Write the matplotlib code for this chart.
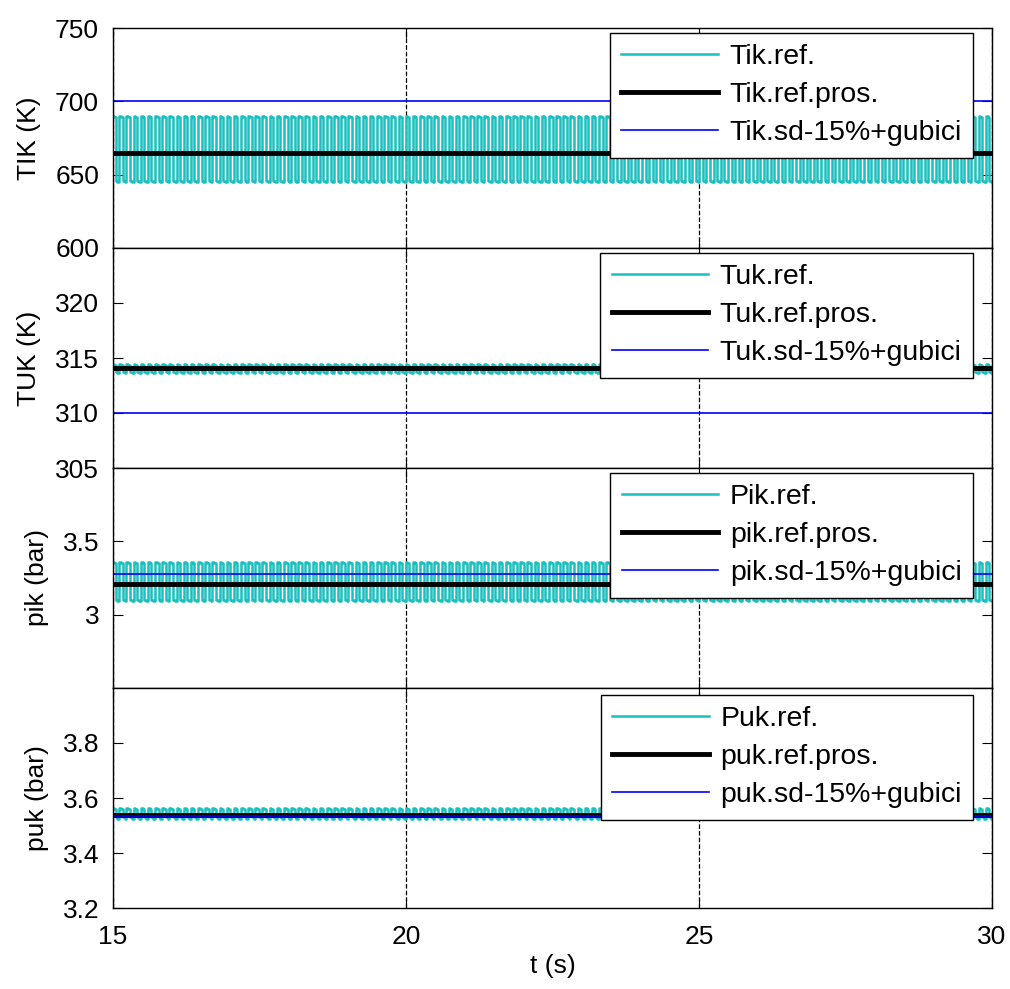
import numpy as np
import matplotlib
matplotlib.use('Agg')
import matplotlib.pyplot as plt

plt.rcParams['font.family'] = ['Liberation Sans', 'DejaVu Sans']

# time span and number of oscillation cycles seen in the picture
t_start = 15.0
t_end = 30.0
n_cycles = 123

# one cycle of each reference signal, repeated
tik_cycle = [690, 689, 646, 645]
tuk_cycle = [314.5, 314.4, 313.7, 313.6]
pik_cycle = [3.36, 3.35, 3.10, 3.09]
puk_cycle = [3.565, 3.56, 3.53, 3.525]

# averaged reference and model values
tik_mean, tik_model = 665, 700
tuk_mean, tuk_model = 314.1, 310
pik_mean, pik_model = 3.21, 3.28
puk_mean, puk_model = 3.54, 3.535

labels = [
    ['Tik.ref.', 'Tik.ref.pros.', 'Tik.sd-15%+gubici'],
    ['Tuk.ref.', 'Tuk.ref.pros.', 'Tuk.sd-15%+gubici'],
    ['Pik.ref.', 'pik.ref.pros.', 'pik.sd-15%+gubici'],
    ['Puk.ref.', 'puk.ref.pros.', 'puk.sd-15%+gubici'],
]
ylabels = ['TIK (K)', 'TUK (K)', 'pik (bar)', 'puk (bar)']
ylims = [(600, 750), (305, 325), (2.5, 4.0), (3.2, 4.0)]
yticks = [[600, 650, 700, 750], [305, 310, 315, 320], [3, 3.5], [3.2, 3.4, 3.6, 3.8]]
yticklabels = [['600', '650', '700', '750'], ['305', '310', '315', '320'],
               ['3', '3.5'], ['3.2', '3.4', '3.6', '3.8']]
xticks = [15, 20, 25, 30]

cycles = [tik_cycle, tuk_cycle, pik_cycle, puk_cycle]
means = [tik_mean, tuk_mean, pik_mean, puk_mean]
models = [tik_model, tuk_model, pik_model, puk_model]

fig = plt.figure(figsize=(10.1, 9.89), dpi=100)
W, H = 1010, 989
left, right = 113, 992
tops = [28, 248, 468, 688]
ph = 220
# legend boxes (right, top) in picture pixels
leg_right = 973
leg_tops = [33, 253, 473, 695]

fs = 19
cyan = '#1abfbf'
for i in range(4):
    ax = fig.add_axes([left / W, 1 - (tops[i] + ph) / H, (right - left) / W, ph / H])
    ref = np.tile(cycles[i], n_cycles)
    t = np.linspace(t_start, t_end, len(ref))
    ax.plot(t, ref, color=cyan, lw=1.8, drawstyle='steps-mid', label=labels[i][0])
    ax.plot([t_start, t_end], [means[i], means[i]], color='black', lw=3.5, label=labels[i][1])
    ax.plot([t_start, t_end], [models[i], models[i]], color='blue', lw=1.2, label=labels[i][2])
    ax.set_xlim(t_start, t_end)
    ax.set_ylim(*ylims[i])
    ax.set_yticks(yticks[i])
    ax.set_yticklabels(yticklabels[i])
    ax.set_xticks(xticks)
    ax.tick_params(direction='in', top=True, right=True, labelsize=fs, length=7)
    ax.tick_params(axis='y', pad=10)
    ax.tick_params(axis='x', pad=12)
    ax.xaxis.grid(True, linestyle='--', color='black', lw=0.9)
    ax.set_ylabel(ylabels[i], fontsize=fs, labelpad=10)
    if i < 3:
        ax.set_xticklabels([])
    else:
        ax.set_xticklabels([str(x) for x in xticks])
        ax.set_xlabel('t (s)', fontsize=fs, labelpad=4)
    for s in ax.spines.values():
        s.set_linewidth(1.0)
    bx = (leg_right - left) / (right - left)
    by = 1 - (leg_tops[i] - tops[i]) / ph
    leg = ax.legend(loc='upper right', bbox_to_anchor=(bx, by), borderaxespad=0,
                    fontsize=20.5, handlelength=3.4, framealpha=1,
                    fancybox=False, edgecolor='black',
                    labelspacing=0.42, handletextpad=0.4, borderpad=0.4)
    leg.get_frame().set_linewidth(1.0)

fig.savefig('out.png', dpi=100)
